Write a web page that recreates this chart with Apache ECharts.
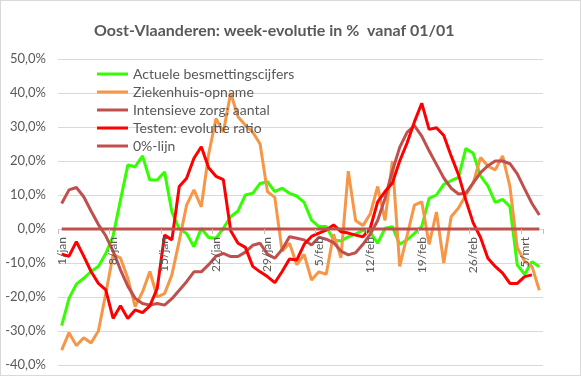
<!DOCTYPE html>
<html>
<head>
<meta charset="utf-8">
<script src="https://cdn.jsdelivr.net/npm/echarts@6/dist/echarts.min.js"></script>
<style>
html,body{margin:0;padding:0;background:#fff;}
#c{width:579px;height:374px;border:1px solid #d9d9d9;}
</style>
</head>
<body>
<div id="c"></div>
<script>
var categories = [
 '1/jan','2/jan','3/jan','4/jan','5/jan','6/jan','7/jan','8/jan','9/jan','10/jan',
 '11/jan','12/jan','13/jan','14/jan','15/jan','16/jan','17/jan','18/jan','19/jan','20/jan',
 '21/jan','22/jan','23/jan','24/jan','25/jan','26/jan','27/jan','28/jan','29/jan','30/jan','31/jan',
 '1/feb','2/feb','3/feb','4/feb','5/feb','6/feb','7/feb','8/feb','9/feb','10/feb',
 '11/feb','12/feb','13/feb','14/feb','15/feb','16/feb','17/feb','18/feb','19/feb','20/feb',
 '21/feb','22/feb','23/feb','24/feb','25/feb','26/feb','27/feb','28/feb',
 '1/mrt','2/mrt','3/mrt','4/mrt','5/mrt','6/mrt','7/mrt'
];
var besmettingen = [
 -28.4,-20.4,-16.2,-14.5,-12.5,-11,-7.2,-2,8.5,18.8,
 18.3,21.5,14.4,14.4,16.8,5,0,-1.3,-5.2,0.2,
 -2.5,-2.7,0.2,3.6,5.3,10,10.5,13.4,13.9,11,
 12,10.5,9.7,7.8,2.6,0.7,0.7,-3.2,-3.5,-2.3,
 -1.4,-0.4,-1,-4.2,0.2,0.7,-4.5,-3.2,-1.3,0.7,
 9,10,13.1,14.2,15.2,23.7,22.3,15.6,12.7,7.8,
 8.7,6.6,-10.6,-13.3,-9.6,-11.1
];
var ziekenhuis = [
 -35.6,-30.5,-34.3,-32,-33.5,-30,-19,-7.5,-8.5,-14.5,
 -22.8,-18.5,-12.5,-20,-19,-13.5,-3.5,7,11.5,6.5,
 22,32.5,28.5,40,33,30.5,28.5,25,11,9.3,
 -6.5,-4.2,-10.5,-7.5,-15,-12.6,-13.3,-1.5,-8.5,17,
 2.5,1,4.5,12.5,2.5,20,-11,-2,7,8,
 -4.5,5,-10,3.6,6.2,10,13.5,21,18.5,17.4,
 21.5,12.5,-5.5,-9.5,-11,-18
];
var intensieveZorg = [
 7.5,11.5,12.2,9.5,5.3,1.3,-2,-6.5,-12,-16.8,
 -20.4,-21.9,-22.4,-21.9,-22.4,-20.5,-18,-15.5,-12.6,-12.6,
 -10.5,-8,-7.2,-8.1,-8.1,-6.8,-4.8,-4.2,-7.4,-8.6,
 -6,-2.3,-2.7,-3.2,-4.7,-2.4,-3,-4,-6.5,-7.6,
 -7,-4.5,-1.5,2.5,9,17,24,28.4,30.4,27.3,
 23,19,15,12,10.3,10.5,13.6,16.6,18.6,20,
 20,19.2,16.2,11.8,7.5,4.1
];
var testen = [
 -7.4,-8,-3.7,-8,-12.5,-16,-17.9,-26.3,-22.6,-26.3,
 -23.8,-24.6,-22.6,-17.5,-1.8,-3.2,12.5,14.9,20.8,24.2,
 18,15.5,14.5,-0.5,-4.2,-5.4,-11,-12.6,-14,-15.8,
 -12.5,-8.8,-9.1,-4.5,-2.2,-1.2,-0.3,1.2,-0.8,-1.2,
 -1.8,-2.3,0.3,8,11,13.5,20,25.3,31.5,37,
 29.3,29.8,27.5,21.5,16,8.5,1.8,-2.5,-8.6,-11,
 -13,-16,-16,-14,-13.5,null
];
var nulLijn = [
 0,0,0,0,0,0,0,0,0,0,0,0,0,0,0,0,0,0,0,0,0,0,0,0,0,0,0,0,0,0,0,0,0,
 0,0,0,0,0,0,0,0,0,0,0,0,0,0,0,0,0,0,0,0,0,0,0,0,0,0,0,0,0,0,0,0,0
];
var seriesNames = ['Actuele besmettingscijfers','Ziekenhuis-opname','Intensieve zorg: aantal','Testen: evolutie ratio','0%-lijn'];
var seriesColors = ['#33ff00','#f79646','#c0504d','#ff0000','#c0504d'];
var seriesData = [besmettingen, ziekenhuis, intensieveZorg, testen, nulLijn];

var FONT = 'Lato';
var GRID_TOP = 58, GRID_BOTTOM = 10, H = 374;
var Y_MIN = -40, Y_MAX = 50;
var plotH = H - GRID_TOP - GRID_BOTTOM;
var zeroOffset = -plotH * (0 - Y_MIN) / (Y_MAX - Y_MIN);

var chart = echarts.init(document.getElementById('c'), null, {renderer:'canvas'});
var series = seriesData.map(function(d,i){
  return {
    name: seriesNames[i], type:'line', data:d, symbol:'none', showSymbol:false,
    connectNulls:false, animation:false,
    lineStyle:{color:seriesColors[i], width:3}, itemStyle:{color:seriesColors[i]},
    z: 2+i
  };
});
chart.setOption({
  animation:false,
  backgroundColor:'#fff',
  title:{
    text:'Oost-Vlaanderen: week-evolutie in %  vanaf 01/01',
    left:88, top:17,
    textStyle:{fontFamily:FONT, fontSize:16, fontWeight:'bold', color:'#595959'}
  },
  legend:{
    orient:'vertical', left:91, top:61,
    itemWidth:31, itemHeight:3, itemGap:4, icon:'rect',
    selectedMode:false,
    textStyle:{fontFamily:FONT, fontSize:14, lineHeight:13, color:'#595959'},
    data:seriesNames
  },
  grid:{left:57, right:37, top:GRID_TOP, bottom:GRID_BOTTOM, outerBoundsMode:'none', containLabel:false},
  xAxis:{
    type:'category', data:categories, boundaryGap:true, position:'bottom',
    offset: zeroOffset, z: 20,
    axisLine:{show:false, onZero:false},
    axisTick:{show:true, interval:6, alignWithLabel:false, length:5, lineStyle:{color:'#bfbfbf'}},
    axisLabel:{interval:6, rotate:90, margin:8, fontFamily:FONT, fontSize:12, color:'#595959'},
    splitLine:{show:false}
  },
  yAxis:{
    type:'value', min:Y_MIN, max:Y_MAX, interval:10,
    axisLine:{show:false}, axisTick:{show:false},
    axisLabel:{margin:12, fontFamily:FONT, fontSize:13, color:'#595959',
      formatter:function(v){ return v.toFixed(1).replace('.', ',') + '%'; }},
    splitLine:{show:true, lineStyle:{color:'#d9d9d9', width:1}}
  },
  series:series
});
</script>
</body>
</html>
